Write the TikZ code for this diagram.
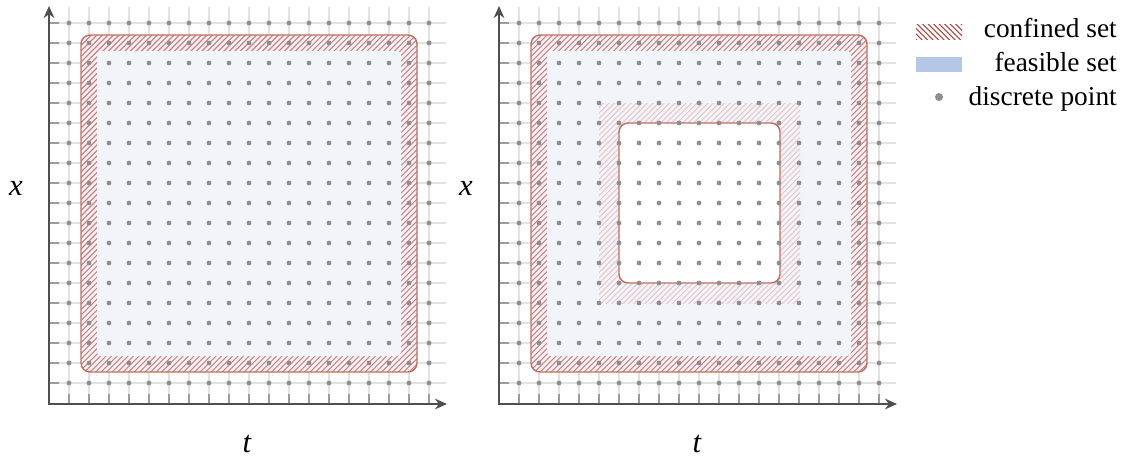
\documentclass[tikz,border=0pt]{standalone}
\usepackage{fontspec}
\setmainfont{Liberation Serif}
\usetikzlibrary{arrows.meta}
\definecolor{bluefill}{HTML}{F1F5FA}
\definecolor{legblue}{HTML}{B4C7E7}
\definecolor{gridc}{HTML}{E2E2E2}
\definecolor{tickc}{HTML}{9C9C9C}
\definecolor{dotc}{HTML}{8E8E8E}
\definecolor{axisc}{HTML}{4F4F4F}
\definecolor{borderc}{HTML}{C0705F}
\definecolor{hatchc}{HTML}{D0504C}
\begin{document}
\begin{tikzpicture}[x=0.75pt,y=-0.75pt,
  gridline/.style={draw=gridc,line width=0.9pt},
  tickline/.style={draw=tickc,line width=0.9pt},
  axisline/.style={draw=axisc,line width=1.6pt,{Stealth[length=9pt,width=8pt]}-{Stealth[length=9pt,width=8pt]}},
  dotmark/.style={fill=dotc,draw=none},
  hatchline/.style={draw=hatchc,line width=0.8pt},
  border/.style={draw=borderc,line width=1.1pt},
  lbl/.style={font=\fontsize{23pt}{26pt}\selectfont\itshape,inner sep=0pt},
  leg/.style={font=\fontsize{20.5pt}{24pt}\selectfont,inner sep=0pt}]
\useasboundingbox (0,0) rectangle (1122,457);
\foreach \dx in {0,450} {
\begin{scope}[shift={(\dx,0)}]
  % grid lines
  \foreach \i in {0,...,18} {
    \draw[gridline] ({69+20*\i},7) -- ({69+20*\i},404);
    \draw[gridline] (49,{23+20*\i}) -- (446,{23+20*\i});
    \draw[tickline] ({69+20*\i},394) -- ({69+20*\i},404);
    \draw[tickline] (49,{23+20*\i}) -- (59,{23+20*\i});
  }
  % feasible set
  \fill[bluefill,rounded corners=6.75pt] (81,35) rectangle (417,372);
  \begin{scope}
    \clip[rounded corners=6.75pt] (81,35) rectangle (417,372);
    \foreach \c in {110,115.5,...,800} \draw[hatchline,opacity=0.72] (\c,0) -- ({\c-450},450);
  \end{scope}
  \fill[bluefill,rounded corners=3pt] (97,51) rectangle (401,356);
  \ifnum\dx=450
    \begin{scope}
      \clip (149,103) rectangle (350,303);
      \foreach \c in {240,245.5,...,660} \draw[hatchline,opacity=0.28] (\c,0) -- ({\c-450},450);
    \end{scope}
    \fill[white,rounded corners=6.75pt] (169,123) rectangle (330,283);
    \draw[border,rounded corners=6.75pt] (169,123) rectangle (330,283);
  \fi
  \draw[border,rounded corners=6.75pt] (81,35) rectangle (417,372);
  % dots
  \foreach \i in {0,...,18} \foreach \j in {0,...,18}
    \fill[dotmark] ({69+20*\i},{23+20*\j}) circle (1.8pt);
  % axes
  \coordinate (top\dx) at (49,6);
  \coordinate (org\dx) at (49,404);
  \coordinate (right\dx) at (447,404);
  \draw[axisline] (top\dx) -- (org\dx) -- (right\dx);
  \node[lbl] (xl\dx) at (16,188) {x};
  \node[lbl] (tl\dx) at (247,444) {t};
\end{scope}
}
% legend
\begin{scope}
  \clip (916,24) rectangle (962,39);
  \foreach \c in {860,865.5,...,960} \draw[draw=hatchc!85!black,line width=0.8pt] (\c,0) -- ({\c+60},60);
\end{scope}
\fill[legblue] (916,57) rectangle (962,72);
\fill[dotmark] (939,97) circle (3pt);
\node[leg,anchor=base east] (l1) at (1117,37) {confined set};
\node[leg,anchor=base east] (l2) at (1117,71) {feasible set};
\node[leg,anchor=base east] (l3) at (1117,105) {discrete point};
\end{tikzpicture}
\end{document}
